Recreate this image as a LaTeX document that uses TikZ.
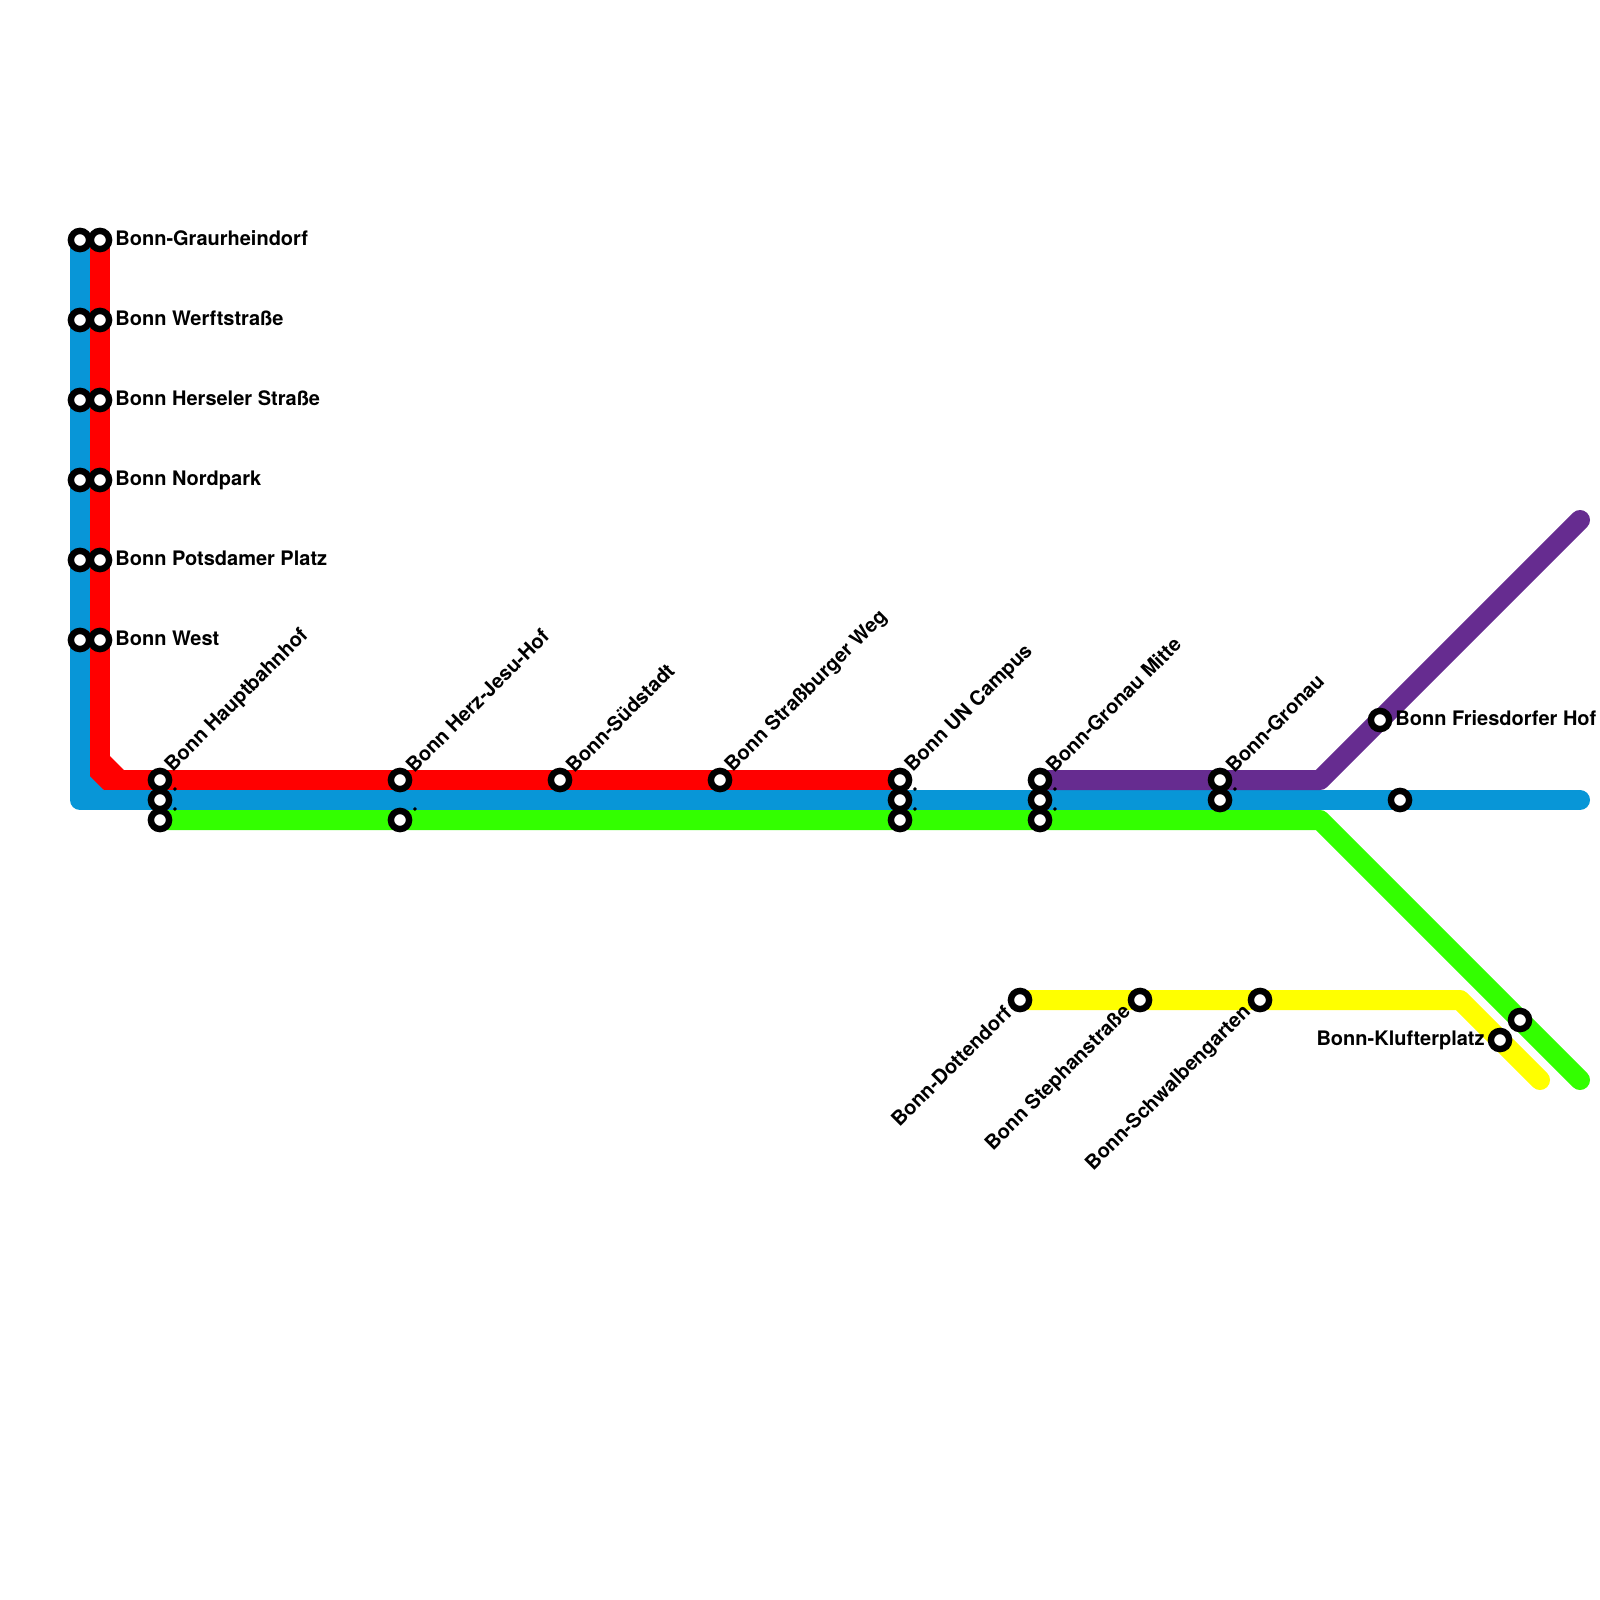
\documentclass[tikz,border=0pt]{standalone}
\usepackage{xcolor}
\definecolor{lineblue}{HTML}{0896D7}
\definecolor{linered}{HTML}{FF0000}
\definecolor{linegreen}{HTML}{33FF00}
\definecolor{linepurple}{HTML}{662C90}
\definecolor{lineyellow}{HTML}{FFFF00}
\usepackage{fontspec}
\setmainfont{TeX Gyre Heros}
\usetikzlibrary{backgrounds}
\tikzset{
  metroline/.style={line width=10pt, line cap=round, line join=round},
  station/.style={circle, draw=black, fill=white, line width=3.2pt, minimum size=9.1pt, inner sep=0pt},
  stationlabel/.style={font=\fontsize{10}{11}\selectfont\bfseries, text=black, inner sep=0pt},
  uplabel/.style={stationlabel, rotate=45, anchor=west},
  downlabel/.style={stationlabel, rotate=45, anchor=east},
  dotlabel/.style={stationlabel, rotate=45}
}
\begin{document}
\begin{tikzpicture}[x=0.5pt, y=-0.5pt]
  \useasboundingbox (0,0) rectangle (1600,1600);
  % Stations — left column, outer
  \node[station] (blueGraur)  at (80,240) {};
  \node[station] (blueWerft)  at (80,320) {};
  \node[station] (blueHersel) at (80,400) {};
  \node[station] (blueNord)   at (80,480) {};
  \node[station] (bluePots)   at (80,560) {};
  \node[station] (blueWest)   at (80,640) {};
  % Stations — left column, inner
  \node[station] (redGraur)  at (100,240) {};
  \node[station] (redWerft)  at (100,320) {};
  \node[station] (redHersel) at (100,400) {};
  \node[station] (redNord)   at (100,480) {};
  \node[station] (redPots)   at (100,560) {};
  \node[station] (redWest)   at (100,640) {};
  % Stations — main stretch
  \node[station] (redHbf)      at (160,780) {};
  \node[station] (blueHbf)     at (160,800) {};
  \node[station] (greenHbf)    at (160,820) {};
  \node[station] (redHerz)     at (400,780) {};
  \node[station] (greenHerz)   at (400,820) {};
  \node[station] (redSued)     at (560,780) {};
  \node[station] (redStrass)   at (720,780) {};
  \node[station] (redCampus)   at (900,780) {};
  \node[station] (blueCampus)  at (900,800) {};
  \node[station] (greenCampus) at (900,820) {};
  \node[station] (purpleMitte) at (1040,780) {};
  \node[station] (blueMitte)   at (1040,800) {};
  \node[station] (greenMitte)  at (1040,820) {};
  \node[station] (purpleGronau) at (1220,780) {};
  \node[station] (blueGronau)  at (1220,800) {};
  \node[station] (purpleFries) at (1380,720) {};
  \node[station] (blueFries)   at (1400,800) {};
  % Stations — lower branch
  \node[station] (yellowDott)  at (1020,1000) {};
  \node[station] (yellowStep)  at (1140,1000) {};
  \node[station] (yellowSchw)  at (1260,1000) {};
  \node[station] (yellowKluft) at (1500,1040) {};
  \node[station] (greenKluft)  at (1520,1020) {};
  % Bends and free ends
  \coordinate (blueCorner) at (80,800);
  \coordinate (blueEnd)    at (1580,800);
  \coordinate (redBendA)   at (100,776);
  \coordinate (redBendB)   at (104,780);
  \coordinate (purpleBend) at (1320,780);
  \coordinate (purpleEnd)  at (1580,520);
  \coordinate (greenBend)  at (1320,820);
  \coordinate (greenEnd)   at (1580,1080);
  \coordinate (yellowBend) at (1460,1000);
  \coordinate (yellowEnd)  at (1540,1080);
  % Lines
  \begin{scope}[on background layer]
    \fill[lineblue] (90,770) -- (104,790) -- (90,790) -- cycle;
    \draw[metroline, lineblue] (blueGraur.center) -- (blueCorner) -- (blueEnd);
    \draw[metroline, linered, line cap=butt] (redGraur.center) -- (redBendA);
    \draw[metroline, linered, line cap=butt] (redBendB) -- (redCampus.center);
    \fill[linered] (110,756) -- (124,770) -- (104,790) -- (90,776) -- cycle;
    \draw[metroline, linepurple] (purpleMitte.center) -- (purpleBend) -- (purpleEnd);
    \draw[metroline, linegreen] (greenHbf.center) -- (greenBend) -- (greenEnd);
    \draw[metroline, lineyellow] (yellowDott.center) -- (yellowBend) -- (yellowEnd);
  \end{scope}
  % Labels
  \node[stationlabel, anchor=base west] (lblGraur)  at (115,245.2) {Bonn-Graurheindorf};
  \node[stationlabel, anchor=base west] (lblWerft)  at (115,325.2) {Bonn Werftstraße};
  \node[stationlabel, anchor=base west] (lblHersel) at (115,405.2) {Bonn Herseler Straße};
  \node[stationlabel, anchor=base west] (lblNord)   at (115,485.2) {Bonn Nordpark};
  \node[stationlabel, anchor=base west] (lblPots)   at (115,565.2) {Bonn Potsdamer Platz};
  \node[stationlabel, anchor=base west] (lblWest)   at (115,645.2) {Bonn West};
  \node[uplabel] (lblHbf)    at (169,769) {Bonn Hauptbahnhof};
  \node[uplabel] (lblHerz)   at (409,769) {Bonn Herz-Jesu-Hof};
  \node[uplabel] (lblSued)   at (569,769) {Bonn-Südstadt};
  \node[uplabel] (lblStrass) at (729,769) {Bonn Straßburger Weg};
  \node[uplabel] (lblCampus) at (909,769) {Bonn UN Campus};
  \node[uplabel] (lblMitte)  at (1049,769) {Bonn-Gronau Mitte};
  \node[uplabel] (lblGronau) at (1229,769) {Bonn-Gronau};
  \node[stationlabel, anchor=base west] (lblFries) at (1395,725.2) {Bonn Friesdorfer Hof};
  \node[downlabel] (lblDott) at (1008,1009) {Bonn-Dottendorf};
  \node[downlabel] (lblStep) at (1128,1009) {Bonn Stephanstraße};
  \node[downlabel] (lblSchw) at (1248,1009) {Bonn-Schwalbengarten};
  \node[stationlabel, anchor=base east] (lblKluft) at (1485,1045.2) {Bonn-Klufterplatz};
  % Unnamed stops
  \node[dotlabel] (dotHbfA)    at (175,789)  {.};
  \node[dotlabel] (dotHbfB)    at (175,809)  {.};
  \node[dotlabel] (dotHerz)    at (415,809)  {.};
  \node[dotlabel] (dotCampusA) at (915,789)  {.};
  \node[dotlabel] (dotCampusB) at (915,809)  {.};
  \node[dotlabel] (dotMitteA)  at (1055,789) {.};
  \node[dotlabel] (dotMitteB)  at (1055,809) {.};
  \node[dotlabel] (dotGronau)  at (1235,789) {.};
\end{tikzpicture}
\end{document}
